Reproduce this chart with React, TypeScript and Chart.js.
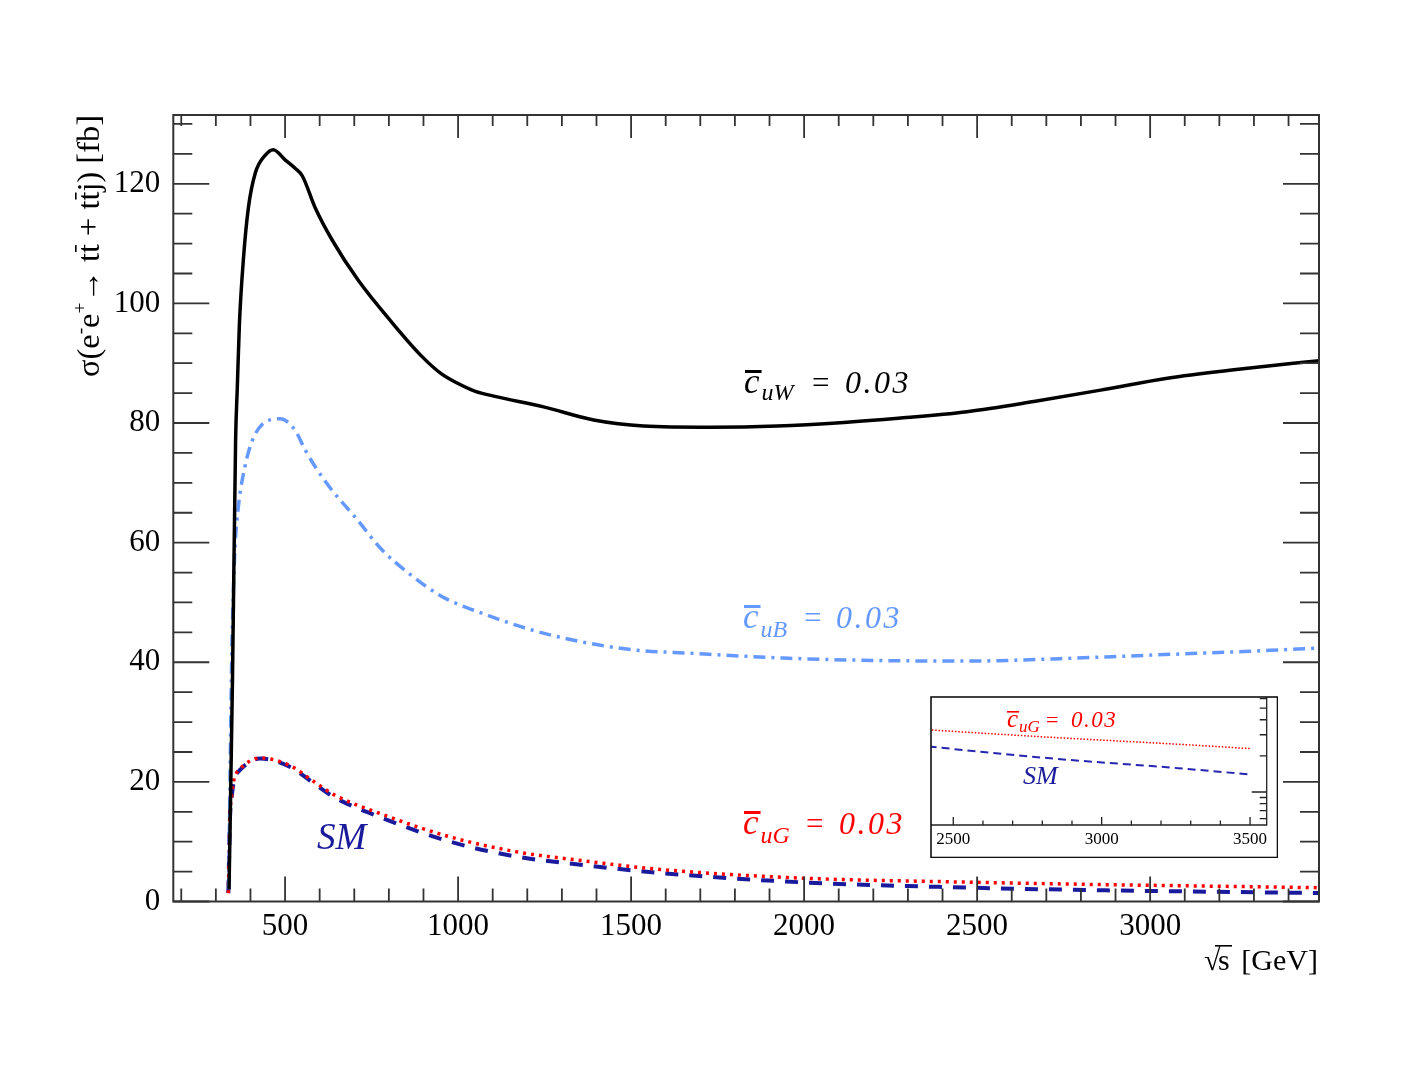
import React, { useEffect, useRef } from "react";
import Chart from "chart.js/auto";

// values: sqrt(s) in GeV, cross section in fb
const sqrtS_uW = [338, 348, 357, 362, 368, 380, 394, 414, 443, 466, 500, 529, 550, 587, 636, 711, 809, 896, 950, 1000, 1050, 1103, 1247, 1392, 1536, 1729, 1922, 2115, 2272, 2471, 2664, 2857, 3050, 3242, 3500];
const sigma_uW = [2, 37, 77, 86, 96.5, 107.7, 116, 121.8, 124.8, 125.7, 124, 122.6, 121.3, 116, 110.6, 103.9, 96.8, 91.1, 88.3, 86.6, 85.3, 84.5, 82.7, 80.5, 79.5, 79.3, 79.5, 80.1, 80.8, 81.9, 83.6, 85.5, 87.5, 88.9, 90.5];

const sqrtS_uB = [337, 346, 350, 355, 365, 384, 404, 433, 486, 529, 558, 587, 635, 702, 780, 857, 953, 1069, 1213, 1358, 1503, 1676, 1942, 2208, 2473, 2738, 3004, 3270, 3500];
const sigma_uB = [2, 41.5, 50.4, 58.8, 66, 72.7, 76.9, 79.7, 80.7, 78.8, 75.5, 72.7, 68.8, 64.3, 58.8, 54.9, 51, 48.2, 45.4, 43.4, 42.1, 41.5, 40.7, 40.3, 40.2, 40.6, 41.2, 41.8, 42.4];

const sqrtS_G = [336, 341, 346, 351, 358, 370, 399, 428, 515, 582, 640, 784, 977, 1170, 1363, 1576, 1996, 2417, 2837, 3258, 3500];
const sigma_SM = [1.4, 14.2, 17.6, 19.8, 21.1, 22, 23.4, 23.9, 22.5, 19.8, 17.5, 13.9, 10.0, 7.5, 6.1, 4.8, 3.2, 2.4, 1.9, 1.58, 1.4];
const sigma_uG = [1.4, 14.4, 17.8, 20, 21.3, 22.2, 23.5, 24, 22.7, 20.1, 17.9, 14.5, 10.8, 8.3, 6.8, 5.4, 3.9, 3.3, 2.85, 2.5, 2.3];

const xLabels = [500, 1000, 1500, 2000, 2500, 3000];
const yLabels = [0, 20, 40, 60, 80, 100, 120];
const insetXLabels = [2500, 3000, 3500];
const insetYTicks = [0.6, 0.7, 0.8, 0.9, 1, 2, 3, 4, 5, 6];

const BLACK = "#000000";
const LIGHTBLUE = "#6699ff";
const RED = "#ff0000";
const NAVY = "#1a1a9c";
const SERIF = '"Liberation Serif", "Times New Roman", serif';

const pts = (xs: number[], ys: number[]) => xs.map((x, i) => ({ x, y: ys[i] }));

function text(ctx: any, t: string, x: number, y: number, size: number, italic: boolean, color: string, spacing = 0) {
  ctx.font = `${italic ? "italic " : ""}${size}px ${SERIF}`;
  ctx.fillStyle = color;
  ctx.letterSpacing = `${spacing}px`;
  ctx.textAlign = "left";
  ctx.textBaseline = "alphabetic";
  ctx.fillText(t, x, y);
  const w = ctx.measureText(t).width;
  ctx.letterSpacing = "0px";
  return w;
}

// c-bar labels: bar over an italic c, subscript, "=" and the value
function coupling(ctx: any, o: any) {
  const wc = text(ctx, "c", o.x, o.y, o.cSize, true, o.color);
  ctx.fillRect(o.x + o.barDx, o.y - o.barUp, wc + o.barExtra, o.barH);
  text(ctx, o.sub, o.x + wc + o.subGap, o.y + o.subDy, o.small, true, o.color);
  text(ctx, "=", o.eq, o.y, o.big - 1, false, o.color);
  text(ctx, "0.03", o.v, o.y, o.big, true, o.color, o.sp);
}

function drawYTitle(ctx: any) {
  const target = 262;
  const parts: [string, number, number, boolean][] = [
    ["σ(e", 1, 0, false], ["-", 0.6, -0.4, false], ["e", 1, 0, false], ["+", 0.6, -0.4, false],
    ["→ t", 1, 0, false], ["t", 1, 0, true], [" + t", 1, 0, false], ["t", 1, 0, true], ["j) [fb]", 1, 0, false],
  ];
  const measure = (F: number) => parts.reduce((s, p) => {
    ctx.font = `${F * p[1]}px ${SERIF}`;
    return s + ctx.measureText(p[0]).width;
  }, 0);
  const F = 32 * target / measure(32);
  ctx.save();
  ctx.translate(99, 377);
  ctx.rotate(-Math.PI / 2);
  ctx.fillStyle = "#000";
  ctx.textBaseline = "alphabetic";
  ctx.textAlign = "left";
  let cx = 0;
  for (const [t, k, dy, bar] of parts) {
    ctx.font = `${F * k}px ${SERIF}`;
    ctx.fillText(t, cx, dy * F);
    const w = ctx.measureText(t).width;
    if (bar) ctx.fillRect(cx + 1, -0.74 * F, w - 2, 1.6);
    cx += w;
  }
  ctx.restore();
}

function drawXTitle(ctx: any) {
  text(ctx, "√", 1204, 970, 30, false, "#000");
  text(ctx, "s", 1218, 970, 30, false, "#000");
  ctx.fillRect(1215, 945, 17, 1.6);
  ctx.font = `30px ${SERIF}`;
  ctx.textAlign = "right";
  ctx.fillText("[GeV]", 1318, 970);
  ctx.textAlign = "left";
}

const mainDecor = {
  id: "mainDecor",
  afterDraw(chart: any) {
    const { ctx, chartArea: a, scales } = chart;
    const xs = scales.x, ys = scales.y;
    ctx.save();
    ctx.strokeStyle = "#333";
    ctx.lineWidth = 1.8;
    ctx.beginPath();
    for (let v = 200; v <= 3400; v += 100) {
      const px = xs.getPixelForValue(v);
      const major = v % 500 === 0;
      ctx.moveTo(px, a.top); ctx.lineTo(px, a.top + (major ? 23 : 11));
      ctx.moveTo(px, a.bottom); ctx.lineTo(px, a.bottom - (major ? 25 : 13));
    }
    for (let v = 0; v <= 130; v += 5) {
      const py = ys.getPixelForValue(v);
      const len = v % 20 === 0 ? 36 : 19;
      ctx.moveTo(a.left, py); ctx.lineTo(a.left + len, py);
      ctx.moveTo(a.right, py); ctx.lineTo(a.right - len, py);
    }
    ctx.stroke();
    ctx.lineWidth = 2;
    ctx.strokeRect(a.left, a.top, a.right - a.left, a.bottom - a.top);

    const common = { cSize: 35, big: 32, small: 24, sp: 2.5, subGap: 2, subDy: 7, barDx: 1, barUp: 23, barExtra: 1, barH: 3 };
    coupling(ctx, { ...common, color: BLACK, x: 744, y: 393, eq: 812, v: 845, sub: "uW" });
    coupling(ctx, { ...common, color: LIGHTBLUE, x: 743, y: 628, eq: 804, v: 836, sub: "uB", subDy: 9 });
    coupling(ctx, { ...common, color: RED, x: 743, y: 834, eq: 806, v: 839, sub: "uG", subDy: 9 });
    text(ctx, "SM", 317, 849, 37, true, NAVY);

    drawYTitle(ctx);
    drawXTitle(ctx);
    ctx.restore();
  },
};

const insetDecor = {
  id: "insetDecor",
  beforeDraw(chart: any) {
    const { ctx, width, height } = chart;
    ctx.save();
    ctx.fillStyle = "#fff";
    ctx.fillRect(0, 0, width, height);
    ctx.restore();
  },
  afterDraw(chart: any) {
    const { ctx, chartArea: a, scales } = chart;
    const xs = scales.x, ys = scales.y;
    ctx.save();
    ctx.strokeStyle = "#222";
    ctx.lineWidth = 1.3;
    ctx.beginPath();
    for (let v = 2500; v <= 3500; v += 100) {
      const px = xs.getPixelForValue(v);
      ctx.moveTo(px, a.bottom); ctx.lineTo(px, a.bottom - (v % 500 === 0 ? 8 : 4.5));
    }
    for (const v of insetYTicks) {
      const py = ys.getPixelForValue(v);
      ctx.moveTo(a.right, py); ctx.lineTo(a.right - (v === 1 ? 15 : 7), py);
    }
    ctx.moveTo(a.right, a.top); ctx.lineTo(a.right, a.bottom); ctx.lineTo(a.left, a.bottom);
    ctx.stroke();
    ctx.lineWidth = 1.6;
    ctx.strokeStyle = "#111";
    ctx.strokeRect(1, 1, 346.5, 160.5);

    coupling(ctx, { color: RED, x: 77, y: 31, cSize: 25, big: 23, small: 17, sp: 1.5, subGap: 1, subDy: 5, barDx: 0, barUp: 16, barExtra: 1, barH: 1.6, eq: 116, v: 141, sub: "uG" });
    text(ctx, "SM", 93, 88, 26, true, NAVY);
    ctx.restore();
  },
};

export default function App() {
  const mainRef = useRef<HTMLCanvasElement | null>(null);
  const insetRef = useRef<HTMLCanvasElement | null>(null);

  useEffect(() => {
    if (!mainRef.current || !insetRef.current) return;

    const main = new Chart(mainRef.current, {
      type: "line",
      data: {
        datasets: [
          { data: pts(sqrtS_uW, sigma_uW), borderColor: BLACK, borderWidth: 3.5 },
          { data: pts(sqrtS_uB, sigma_uB), borderColor: LIGHTBLUE, borderWidth: 3.5, borderDash: [12, 6, 3, 6] },
          { data: pts(sqrtS_G, sigma_uG), borderColor: RED, borderWidth: 3.5, borderDash: [3, 5] },
          { data: pts(sqrtS_G, sigma_SM), borderColor: NAVY, borderWidth: 4, borderDash: [13, 11] },
        ].map((d) => ({ ...d, pointRadius: 0, fill: false, cubicInterpolationMode: "monotone", clip: 0 })) as any,
      },
      options: {
        animation: false,
        responsive: false,
        devicePixelRatio: 1,
        layout: { padding: { top: 115, right: 103, left: 0, bottom: 0 } },
        plugins: { legend: { display: false }, tooltip: { enabled: false } },
        scales: {
          x: {
            type: "linear",
            min: 177,
            max: 3488,
            grid: { display: false, drawTicks: false },
            border: { display: false },
            afterBuildTicks: (s: any) => { s.ticks = xLabels.map((value) => ({ value })); },
            afterFit: (s: any) => { s.height = 165.5; },
            ticks: {
              autoSkip: false, maxRotation: 0, minRotation: 0, padding: 7, color: "#000",
              font: { family: SERIF, size: 31 },
              callback: (v: any) => String(v),
            },
          },
          y: {
            type: "linear",
            min: 0,
            max: 131.5,
            grid: { display: false, drawTicks: false },
            border: { display: false },
            afterBuildTicks: (s: any) => { s.ticks = yLabels.map((value) => ({ value })); },
            afterFit: (s: any) => { s.width = 173.3; },
            ticks: {
              autoSkip: false, padding: 13, color: "#000",
              font: { family: SERIF, size: 31 },
              callback: (v: any) => String(v),
            },
          },
        },
      },
      plugins: [mainDecor],
    });

    const inset = new Chart(insetRef.current, {
      type: "line",
      data: {
        datasets: [
          { data: pts(sqrtS_G, sigma_uG), borderColor: RED, borderWidth: 1.5, borderDash: [1.5, 1.8] },
          { data: pts(sqrtS_G, sigma_SM), borderColor: "#2626b0", borderWidth: 2, borderDash: [8, 5] },
        ].map((d) => ({ ...d, pointRadius: 0, fill: false, cubicInterpolationMode: "monotone", clip: 0 })) as any,
      },
      options: {
        animation: false,
        responsive: false,
        devicePixelRatio: 1,
        layout: { padding: { top: 1, right: 11.3, left: 1, bottom: 0 } },
        plugins: { legend: { display: false }, tooltip: { enabled: false } },
        scales: {
          x: {
            type: "linear",
            min: 2425,
            max: 3556,
            grid: { display: false, drawTicks: false },
            border: { display: false },
            afterBuildTicks: (s: any) => { s.ticks = insetXLabels.map((value) => ({ value })); },
            afterFit: (s: any) => { s.height = 33; },
            ticks: {
              autoSkip: false, maxRotation: 0, minRotation: 0, padding: 4, color: "#000",
              font: { family: SERIF, size: 17 },
              callback: (v: any) => String(v),
            },
          },
          y: {
            type: "logarithmic",
            display: false,
            min: 0.531,
            max: 6.19,
          },
        },
      },
      plugins: [insetDecor],
    });

    return () => {
      main.destroy();
      inset.destroy();
    };
  }, []);

  return (
    <div style={{ position: "absolute", left: 0, top: 0, width: 1422, height: 1067, background: "#fff", overflow: "hidden" }}>
      <canvas ref={mainRef} width={1422} height={1067} style={{ position: "absolute", left: 0, top: 0 }} />
      <canvas ref={insetRef} width={348} height={162} style={{ position: "absolute", left: 930, top: 696 }} />
    </div>
  );
}
